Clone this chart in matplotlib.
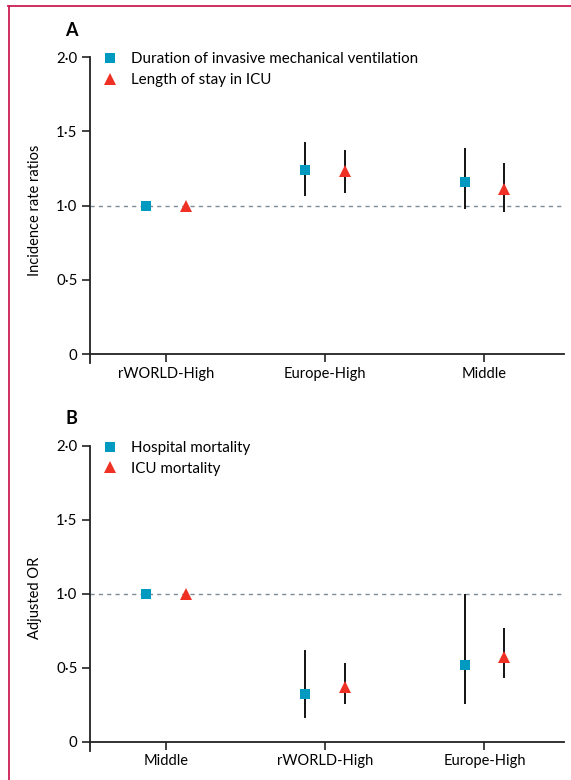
import matplotlib.pyplot as plt
from matplotlib.lines import Line2D

plt.rcParams['font.family'] = ['Lato', 'DejaVu Sans']

# panel A: incidence rate ratios
cats_a = ['rWORLD-High', 'Europe-High', 'Middle']
vent = [1.0, 1.24, 1.16]
vent_lo = [1.0, 1.065, 0.98]
vent_hi = [1.0, 1.43, 1.385]
los = [1.0, 1.23, 1.11]
los_lo = [1.0, 1.085, 0.96]
los_hi = [1.0, 1.375, 1.285]

# panel B: adjusted OR
cats_b = ['Middle', 'rWORLD-High', 'Europe-High']
hosp = [1.0, 0.323, 0.517]
hosp_lo = [1.0, 0.16, 0.256]
hosp_hi = [1.0, 0.622, 1.0]
icu = [1.0, 0.37, 0.572]
icu_lo = [1.0, 0.256, 0.427]
icu_hi = [1.0, 0.53, 0.768]

yticks = [0, 0.5, 1.0, 1.5, 2.0]
ytick_labels = ['0', '0·5', '1·0', '1·5', '2·0']

teal = '#0099bf'
red = '#ee3124'

fig = plt.figure(figsize=(5.71, 7.80), dpi=100)


def panel(rect, cats, s1, s1lo, s1hi, s2, s2lo, s2hi, names, ylabel, letter):
    ax = fig.add_axes(rect)
    off = 0.125
    x1 = [i - off for i in range(len(cats))]
    x2 = [i + off for i in range(len(cats))]
    ax.axhline(1.0, color='#7d8c99', lw=1.0, ls=(0, (3, 3)), zorder=1)
    ax.vlines(x1, s1lo, s1hi, color='black', lw=1.3, zorder=2)
    ax.vlines(x2, s2lo, s2hi, color='black', lw=1.3, zorder=2)
    ax.plot(x1, s1, 's', color=teal, ms=7, mew=0, zorder=3, label=names[0])
    ax.plot(x2, s2, '^', color=red, ms=8, mew=0, zorder=3, label=names[1])
    ax.set_xlim(-0.48, 2.5)
    ax.set_ylim(-0.06, 2.0)
    ax.spines['top'].set_visible(False)
    ax.spines['right'].set_visible(False)
    ax.spines['bottom'].set_position(('data', 0))
    for s in ('left', 'bottom'):
        ax.spines[s].set_linewidth(1.3)
        ax.spines[s].set_color('#222222')
    ax.set_xticks(range(len(cats)))
    ax.set_xticklabels(cats, fontsize=10.5)
    ax.set_yticks(yticks)
    ax.set_yticklabels(ytick_labels, fontsize=10.8)
    ax.tick_params(direction='out', length=6, width=1.2, color='#222222', pad=3)
    ax.set_ylabel(ylabel, fontsize=10.5, labelpad=10)
    ax.legend(loc='upper left', bbox_to_anchor=(0.0, 1.05), frameon=False,
              fontsize=10.9, handletextpad=0.8, labelspacing=0.45,
              borderaxespad=0.3, handlelength=1.2)
    ax.text(-0.04, 1.088, letter, transform=ax.transAxes, fontsize=13,
            fontweight='bold', ha='center', va='center')
    return ax


panel([0.1576, 0.5346, 0.830, 0.3923], cats_a, vent, vent_lo, vent_hi,
      los, los_lo, los_hi,
      ['Duration of invasive mechanical ventilation', 'Length of stay in ICU'],
      'Incidence rate ratios', 'A')
panel([0.1576, 0.0377, 0.830, 0.391], cats_b, hosp, hosp_lo, hosp_hi,
      icu, icu_lo, icu_hi, ['Hospital mortality', 'ICU mortality'],
      'Adjusted OR', 'B')

# page frame
frame = '#cc1f55'
fig.add_artist(Line2D([8.5 / 571, 8.5 / 571], [0, 1 - 6 / 780], color=frame, lw=1.3))
fig.add_artist(Line2D([8 / 571, 1], [1 - 6 / 780, 1 - 6 / 780], color=frame, lw=1.3))

fig.savefig('out.png', dpi=100)
